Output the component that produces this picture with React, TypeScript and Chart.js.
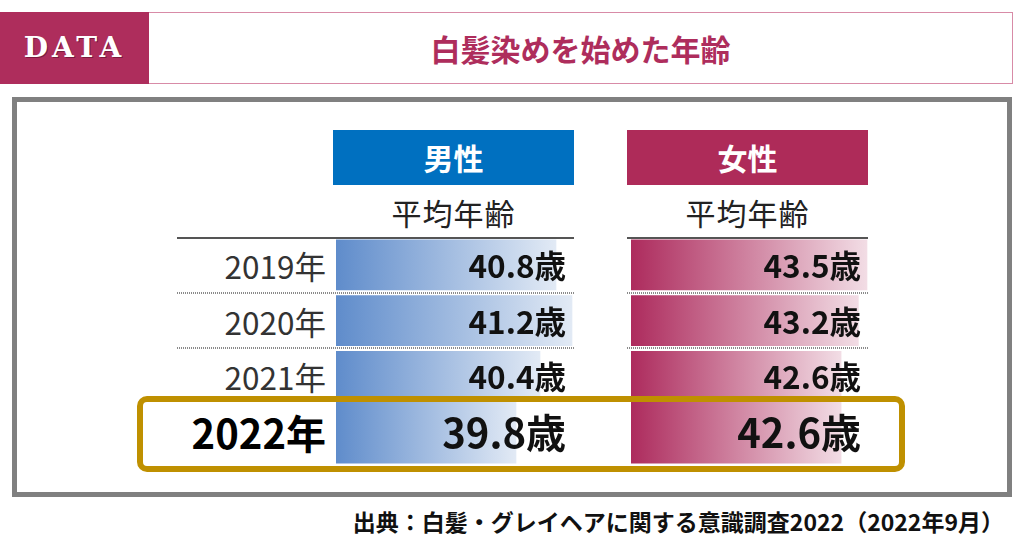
import React, { useEffect, useRef } from "react";
import { Chart, registerables } from "chart.js";

Chart.register(...registerables);

// ---- data ----
const years = ["2019年", "2020年", "2021年", "2022年"];
const maleAges = [40.8, 41.2, 40.4, 39.8];
const femaleAges = [43.5, 43.2, 42.6, 42.6];
const maleAxis = { min: 35.3, max: 41.225 };
const femaleAxis = { min: 35.3, max: 43.535 };
const titleText = "白髪染めを始めた年齢";
const maleHeader = "男性";
const femaleHeader = "女性";
const subHeader = "平均年齢";
const unit = "歳";
const sourceText = "出典：白髪・グレイヘアに関する意識調査2022（2022年9月）";

const JP = "'Noto Sans CJK JP', 'Noto Sans', sans-serif";
const HIGHLIGHT = years.length - 1;

type ColProps = {
  values: number[];
  axis: { min: number; max: number };
  c0: string;
  c1: string;
  left: number;
  top: number;
  width: number;
  height: number;
};

const PAD_BOTTOM = 8;

const labelPlugin = {
  id: "valueLabels",
  afterDatasetsDraw(chart: any) {
    const vals: number[] = chart.options.plugins.valueLabels.values;
    const ctx = chart.ctx;
    const area = chart.chartArea;
    const ys = chart.scales.y;
    ctx.save();
    ctx.fillStyle = "#111";
    ctx.textAlign = "right";
    ctx.textBaseline = "middle";
    vals.forEach((v, i) => {
      const big = i === HIGHLIGHT;
      ctx.font = `bold ${big ? 40 : 31.5}px ${JP}`;
      const y = ys.getPixelForValue(i);
      ctx.fillText(v.toFixed(1) + unit, area.right - 7, y + 1);
    });
    ctx.restore();
  },
};

function ColumnChart({ values, axis, c0, c1, left, top, width, height }: ColProps) {
  const ref = useRef<HTMLCanvasElement>(null);
  useEffect(() => {
    if (!ref.current) return;
    const grad = (ctx: any) => {
      const chart = ctx.chart;
      if (ctx.raw == null) return "rgba(0,0,0,0)";
      const xs = chart.scales.x;
      if (!chart.chartArea || !xs) return c0;
      const x0 = xs.getPixelForValue(axis.min);
      const x1 = xs.getPixelForValue(ctx.raw);
      const g = chart.ctx.createLinearGradient(x0, 0, Math.max(x1, x0 + 1), 0);
      g.addColorStop(0, c0);
      g.addColorStop(1, c1);
      return g;
    };
    const chart = new Chart(ref.current, {
      type: "bar",
      data: {
        labels: years,
        datasets: [
          {
            label: "regular",
            data: values.map((v, i) => (i === HIGHLIGHT ? null : v)),
            backgroundColor: grad,
            barThickness: 50,
            grouped: false,
            borderWidth: 0,
          },
          {
            label: "highlight",
            data: values.map((v, i) => (i === HIGHLIGHT ? v : null)),
            backgroundColor: grad,
            barThickness: 62,
            grouped: false,
            borderWidth: 0,
            clip: false,
          },
        ],
      },
      options: {
        indexAxis: "y",
        responsive: false,
        animation: false,
        devicePixelRatio: 1,
        layout: { padding: { left: 0, right: 0, top: 0, bottom: PAD_BOTTOM } },
        scales: {
          x: { type: "linear", min: axis.min, max: axis.max, display: false },
          y: { type: "category", display: false, offset: true },
        },
        plugins: {
          legend: { display: false },
          tooltip: { enabled: false },
          valueLabels: { values },
        } as any,
      },
      plugins: [labelPlugin],
    } as any);
    return () => chart.destroy();
  }, []);
  return (
    <canvas
      ref={ref}
      width={width}
      height={height + PAD_BOTTOM}
      style={{ position: "absolute", left, top, width, height: height + PAD_BOTTOM }}
    />
  );
}

const abs = (s: React.CSSProperties): React.CSSProperties => ({ position: "absolute", ...s });

const rowCenters = [264.9, 320.6, 376.4, 432.1];
const sepYs = [292, 347];

function Dotted({ left, top, width }: { left: number; top: number; width: number }) {
  return (
    <div
      style={abs({
        left,
        top,
        width,
        height: 2,
        background: "repeating-linear-gradient(90deg, #8a8a8a 0 1px, transparent 1px 2px)",
      })}
    />
  );
}

export default function App() {
  useEffect(() => {
    document.body.style.margin = "0";
  }, []);
  return (
    <div
      style={{
        position: "fixed",
        left: 0,
        top: 0,
        width: 1024,
        height: 538,
        background: "#fff",
        overflow: "hidden",
        fontFamily: JP,
      }}
    >
      {/* header */}
      <div
        style={abs({
          left: 0,
          top: 12,
          width: 149,
          height: 72,
          background: "#ae2d5c",
          color: "#fff",
          fontFamily: "'DejaVu Serif', 'Liberation Serif', serif",
          fontWeight: "bold",
          fontSize: 28,
          letterSpacing: 4,
          lineHeight: "72px",
          textAlign: "center",
          textShadow: "1px 1px 0 #7a1a3d",
        })}
      >
        DATA
      </div>
      <div
        style={abs({
          left: 149,
          top: 12,
          width: 864,
          height: 72,
          boxSizing: "border-box",
          border: "1px solid #d88ba7",
          borderLeft: "none",
          color: "#ae2d5c",
          fontWeight: "bold",
          fontSize: 30,
          lineHeight: "70px",
          textAlign: "center",
        })}
      >
        {titleText}
      </div>

      {/* frame */}
      <div
        style={abs({
          left: 12,
          top: 97,
          width: 1000,
          height: 400,
          boxSizing: "border-box",
          border: "5px solid #808080",
        })}
      />

      {/* column headers */}
      <div
        style={abs({
          left: 333,
          top: 130,
          width: 241,
          height: 55,
          background: "#0070c0",
          color: "#fff",
          fontWeight: "bold",
          fontSize: 30,
          lineHeight: "55px",
          textAlign: "center",
        })}
      >
        {maleHeader}
      </div>
      <div
        style={abs({
          left: 627,
          top: 130,
          width: 241,
          height: 55,
          background: "#ae2b59",
          color: "#fff",
          fontWeight: "bold",
          fontSize: 30,
          lineHeight: "55px",
          textAlign: "center",
        })}
      >
        {femaleHeader}
      </div>
      {[333, 627].map((l) => (
        <div
          key={l}
          style={abs({
            left: l,
            top: 190,
            width: 241,
            height: 44,
            color: "#222",
            fontSize: 30,
            letterSpacing: 1,
            lineHeight: "44px",
            textAlign: "center",
          })}
        >
          {subHeader}
        </div>
      ))}

      {/* rules */}
      <div style={abs({ left: 177, top: 237, width: 397, height: 2, background: "#555" })} />
      <div style={abs({ left: 627, top: 237, width: 241, height: 2, background: "#555" })} />
      {sepYs.map((y) => (
        <React.Fragment key={y}>
          <Dotted left={177} top={y} width={397} />
          <Dotted left={627} top={y} width={241} />
        </React.Fragment>
      ))}

      {/* year labels */}
      {years.map((yr, i) => {
        const big = i === HIGHLIGHT;
        return (
          <div
            key={yr}
            style={abs({
              left: 130,
              top: rowCenters[i] - 30,
              width: 196,
              height: 60,
              lineHeight: "60px",
              textAlign: "right",
              fontSize: big ? 40 : 31.5,
              fontWeight: big ? "bold" : "normal",
              color: big ? "#000" : "#333",
            })}
          >
            {yr}
          </div>
        );
      })}

      {/* bars */}
      <ColumnChart
        values={maleAges}
        axis={maleAxis}
        c0="#5f8ccb"
        c1="#e2eaf5"
        left={336}
        top={237}
        width={237}
        height={223}
      />
      <ColumnChart
        values={femaleAges}
        axis={femaleAxis}
        c0="#ad2b5d"
        c1="#f2dde5"
        left={631}
        top={237}
        width={237}
        height={223}
      />

      {/* highlight box */}
      <div
        style={abs({
          left: 137,
          top: 396,
          width: 768,
          height: 76,
          boxSizing: "border-box",
          border: "6px solid #bf9000",
          borderRadius: 10,
        })}
      />

      {/* source */}
      <div
        style={abs({
          left: 250,
          top: 505,
          width: 754,
          height: 32,
          lineHeight: "32px",
          textAlign: "right",
          fontWeight: "bold",
          fontSize: 23,
          color: "#111",
        })}
      >
        {sourceText}
      </div>
    </div>
  );
}
